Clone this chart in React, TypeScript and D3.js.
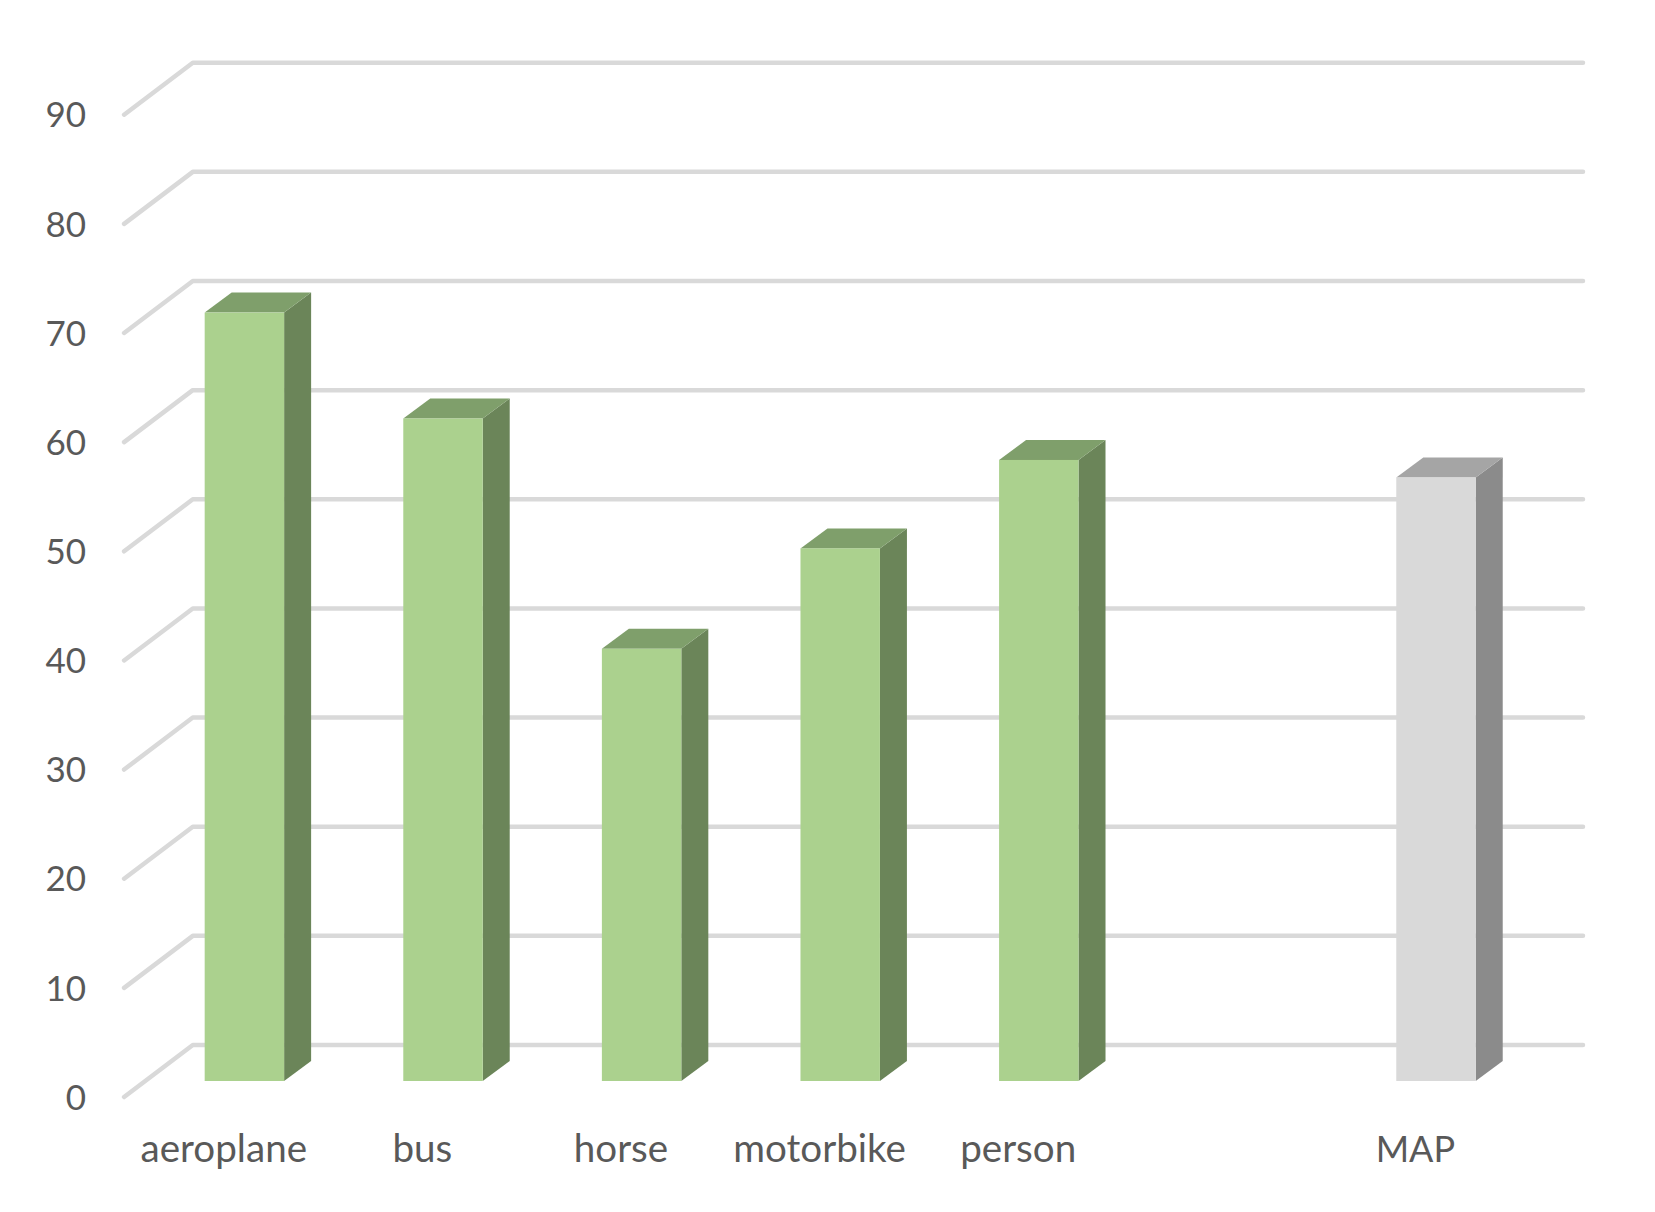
import React, { useEffect, useRef } from 'react';
import * as d3 from 'd3';

const categories = ['aeroplane', 'bus', 'horse', 'motorbike', 'person', ' ', 'MAP'];
const values = [70.4, 60.7, 39.6, 48.8, 56.9, null, 55.3];
const yTicks = [0, 10, 20, 30, 40, 50, 60, 70, 80, 90];

const greenColors = { front: '#abd18e', side: '#6b8559', top: '#7f9f6b' };
const grayColors = { front: '#d9d9d9', side: '#8b8b8b', top: '#a5a5a5' };
const textColor = '#595959';
const fontFamily = 'Lato, "Noto Sans", sans-serif';

const App = () => {
    const svgRef = useRef<SVGSVGElement>(null);

    useEffect(() => {
        const svg = d3.select(svgRef.current);
        svg.selectAll('*').remove();

        // scales are for the plane the bar fronts sit on
        const x = d3.scaleBand()
            .domain(categories)
            .range([145.1, 1535.3])
            .paddingInner(0.6)
            .paddingOuter(0.3);

        const y = d3.scaleLinear()
            .domain([0, 90])
            .range([1081, 98.7]);

        // offsets of the floor / wall grid from that plane
        const wallFront = { dx: -21, dy: 16 };
        const wallBack = { dx: 47.7, dy: -36 };
        const barDepth = { dx: 27, dy: -20 };

        const line = d3.line();

        // grid, front edge of the floor up to the back wall
        svg.append('g')
            .selectAll('path')
            .data(yTicks)
            .enter().append('path')
            .attr('d', d => line([
                [x.range()[0] + wallFront.dx, y(d) + wallFront.dy],
                [x.range()[0] + wallBack.dx, y(d) + wallBack.dy],
                [x.range()[1] + wallBack.dx, y(d) + wallBack.dy],
            ]))
            .attr('fill', 'none')
            .attr('stroke', '#d9d9d9')
            .attr('stroke-width', 4.5)
            .attr('stroke-linecap', 'round')
            .attr('stroke-linejoin', 'round');

        // bars
        const data = categories
            .map((c, i) => ({ category: c, value: values[i] }))
            .filter(d => d.value !== null);

        const bars = svg.append('g')
            .selectAll('g')
            .data(data)
            .enter().append('g');

        const colorsFor = d => (d.category === 'MAP' ? grayColors : greenColors);

        bars.append('path')
            .attr('fill', d => colorsFor(d).side)
            .attr('d', d => {
                const right = x(d.category) + x.bandwidth();
                return line([
                    [right, y(d.value)],
                    [right + barDepth.dx, y(d.value) + barDepth.dy],
                    [right + barDepth.dx, y(0) + barDepth.dy],
                    [right, y(0)],
                ]) + 'Z';
            });

        bars.append('path')
            .attr('fill', d => colorsFor(d).top)
            .attr('d', d => {
                const left = x(d.category);
                const right = left + x.bandwidth();
                return line([
                    [left, y(d.value)],
                    [left + barDepth.dx, y(d.value) + barDepth.dy],
                    [right + barDepth.dx, y(d.value) + barDepth.dy],
                    [right, y(d.value)],
                ]) + 'Z';
            });

        bars.append('rect')
            .attr('x', d => x(d.category))
            .attr('y', d => y(d.value))
            .attr('width', x.bandwidth())
            .attr('height', d => y(0) - y(d.value))
            .attr('fill', d => colorsFor(d).front);

        // y axis labels
        const yAxis = svg.append('g')
            .attr('transform', `translate(86,${wallFront.dy + 1})`)
            .call(d3.axisLeft(y).tickValues(yTicks).tickSize(0).tickPadding(0));
        yAxis.select('.domain').remove();
        yAxis.selectAll('text')
            .attr('fill', textColor)
            .attr('font-size', 35)
            .attr('font-family', fontFamily);

        // x axis labels, they sit left of the bars
        const xAxis = svg.append('g')
            .attr('transform', `translate(-20.6,1161.7)`)
            .call(d3.axisBottom(x).tickSize(0).tickPadding(0));
        xAxis.select('.domain').remove();
        xAxis.selectAll('text')
            .attr('y', 0)
            .attr('dy', 0)
            .attr('fill', textColor)
            .attr('font-size', d => (d === 'MAP' ? 36 : 38.6))
            .attr('font-family', fontFamily);
    }, []);

    return (
        <svg
            ref={svgRef}
            width={1655}
            height={1212}
            style={{ position: 'absolute', left: 0, top: 0, background: '#fff' }}
        />
    );
};

export default App;
